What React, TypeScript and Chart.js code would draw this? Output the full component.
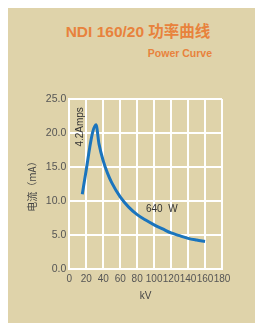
import React, { useEffect, useRef } from "react";
import { Chart, registerables } from "chart.js";

Chart.register(...registerables);

const kV = [15.3, 20, 24, 27.5, 31.5, 35, 40, 45, 50, 60, 70, 80, 90, 100, 110, 120, 130, 140, 150, 160];
const mA = [11.0, 14.6, 17.8, 20.1, 21.2, 18.4, 15.9, 14.1, 12.7, 10.6, 9.1, 8.0, 7.2, 6.5, 5.9, 5.3, 4.9, 4.5, 4.25, 4.05];
const xTicks = { min: 0, max: 180, step: 20 };
const yTicks = { min: 0, max: 25, step: 5 };
const title = "NDI 160/20 功率曲线";
const subtitle = "Power Curve";
const yTitle = "电流（mA）";
const xTitle = "kV";
const notes = [
  { text: "4.2Amps", x: 12.6, y: 20.9, rot: -Math.PI / 2 },
  { text: "640  W", x: 109, y: 8.8, rot: 0 },
];

const BG = "#dfd3aa";
const ORANGE = "#e8823c";
const BLUE = "#1a74bd";

export default function App() {
  const ref = useRef<HTMLCanvasElement>(null);
  useEffect(() => {
    const notePlugin = {
      id: "notes",
      afterDatasetsDraw(chart: any) {
        const { ctx, scales } = chart;
        ctx.save();
        ctx.fillStyle = "#333";
        ctx.font = "10px 'Liberation Sans', Arial, sans-serif";
        ctx.textAlign = "center";
        ctx.textBaseline = "middle";
        for (const n of notes) {
          const px = scales.x.getPixelForValue(n.x);
          const py = scales.y.getPixelForValue(n.y);
          ctx.save();
          ctx.translate(px, py);
          ctx.rotate(n.rot);
          ctx.fillText(n.text, 0, 0);
          ctx.restore();
        }
        ctx.restore();
      },
    };
    const chart = new Chart(ref.current!, {
      type: "line",
      data: {
        datasets: [
          {
            data: kV.map((v, i) => ({ x: v, y: mA[i] })),
            borderColor: BLUE,
            borderWidth: 3,
            pointRadius: 0,
            cubicInterpolationMode: "monotone",
            fill: false,
          },
        ],
      },
      options: {
        animation: false,
        responsive: false,
        layout: { padding: { left: 0, top: 91, right: 41, bottom: 0 } },
        plugins: { legend: { display: false }, tooltip: { enabled: false } },
        scales: {
          x: {
            type: "linear",
            min: xTicks.min,
            max: xTicks.max,
            afterFit: (s: any) => { s.height = 54; },
            grid: { color: "#ffffff", lineWidth: 2, drawTicks: false },
            border: { color: "#ffffff", width: 2 },
            ticks: {
              stepSize: xTicks.step,
              autoSkip: false,
              padding: 4,
              color: "#555",
              font: { size: 10, family: "'Liberation Sans', Arial, sans-serif" },
              maxRotation: 0,
            },
            title: {
              display: true,
              text: xTitle,
              color: "#444",
              font: { size: 10, family: "'Liberation Sans', Arial, sans-serif" },
              padding: { top: 0, bottom: 21 },
            },
          },
          y: {
            min: yTicks.min,
            max: yTicks.max,
            afterFit: (s: any) => { s.width = 61.3; },
            grid: { color: "#ffffff", lineWidth: 2, drawTicks: false },
            border: { color: "#ffffff", width: 2 },
            ticks: {
              stepSize: yTicks.step,
              padding: 3,
              color: "#555",
              font: { size: 10.5, family: "'Liberation Sans', Arial, sans-serif" },
              callback: (v: any) => Number(v).toFixed(1),
            },
            title: {
              display: true,
              text: yTitle,
              color: "#444",
              font: { size: 10, family: "'Noto Sans CJK SC', sans-serif" },
              padding: { top: 18, bottom: 0 },
            },
          },
        },
      },
      plugins: [notePlugin],
    });
    return () => chart.destroy();
  }, []);

  return (
    <div style={{ position: "relative", width: 255, height: 315, background: BG, overflow: "hidden" }}>
      <div
        style={{
          position: "absolute",
          left: 0,
          width: 260,
          top: 14,
          textAlign: "center",
          color: ORANGE,
          fontWeight: "bold",
          fontSize: 15.5,
          fontFamily: "'Liberation Sans', Arial, 'Noto Sans CJK SC', sans-serif",
          lineHeight: "20px",
          whiteSpace: "nowrap",
        }}
      >
        {title}
      </div>
      <div
        style={{
          position: "absolute",
          right: 255 - 204,
          top: 38,
          color: ORANGE,
          fontWeight: "bold",
          fontSize: 10.5,
          fontFamily: "'Liberation Sans', Arial, sans-serif",
          lineHeight: "14px",
          whiteSpace: "nowrap",
        }}
      >
        {subtitle}
      </div>
      <canvas ref={ref} width={255} height={315} style={{ position: "absolute", left: 0, top: 0 }} />
    </div>
  );
}
